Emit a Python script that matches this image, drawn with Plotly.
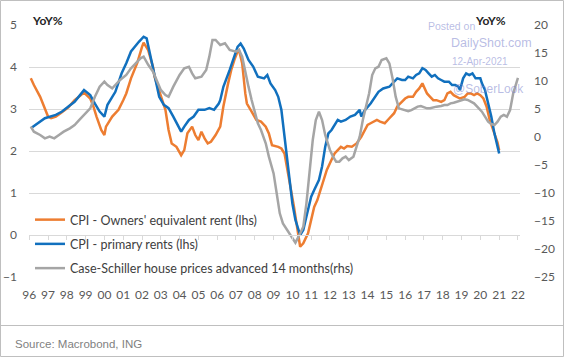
import plotly.graph_objects as go

# ---------------- data ----------------
oer_dates = ["1996-02","1996-04","1996-08","1996-11","1997-01","1997-03","1997-06","1997-09",
             "1998-02","1998-06","1998-10","1998-12","1999-04","1999-06","1999-08","1999-11",
             "2000-01","2000-02","2000-06","2000-10","2001-01","2001-03","2001-06","2001-10",
             "2002-01","2002-02","2002-05","2002-08","2002-09","2002-11","2002-12","2003-04",
             "2003-06","2003-08","2003-11","2004-02","2004-04","2004-06","2004-09","2004-11",
             "2005-01","2005-03","2005-05","2005-07","2005-09","2005-12","2006-03","2006-05",
             "2006-08","2006-10","2006-12","2007-02","2007-03","2007-05","2007-07","2007-08",
             "2007-11","2008-02","2008-05","2008-08","2008-10","2008-12","2009-04","2009-06",
             "2009-08","2009-10","2009-12","2010-02","2010-04","2010-06","2010-08","2010-11",
             "2011-01","2011-03","2011-05","2011-07","2011-09","2011-11","2012-02","2012-04",
             "2012-06","2012-08","2012-10","2012-12","2013-03","2013-06","2013-09","2013-11",
             "2014-01","2014-03","2014-05","2014-07","2014-09","2014-12","2015-03","2015-06",
             "2015-08","2015-10","2016-01","2016-03","2016-06","2016-08","2016-10","2016-12",
             "2017-01","2017-03","2017-05","2017-07","2017-09","2017-12","2018-02","2018-04",
             "2018-06","2018-08","2018-10","2018-12","2019-03","2019-05","2019-07","2019-09",
             "2019-11","2020-01","2020-03","2020-05","2020-07","2020-10","2020-12","2021-01"]
oer_values = [3.73,3.57,3.29,2.98,2.82,2.78,2.82,2.90,
              3.04,3.21,3.33,3.39,3.25,3.06,2.82,2.50,
              2.38,2.58,2.82,2.98,3.21,3.37,3.73,4.10,
              4.48,4.58,4.40,4.01,3.77,3.55,3.45,2.98,
              2.50,2.18,2.10,1.90,2.02,2.42,2.58,2.38,
              2.26,2.46,2.30,2.18,2.22,2.38,2.58,3.06,
              3.61,3.93,4.17,4.37,4.40,4.09,3.37,3.13,
              2.94,2.74,2.70,2.58,2.42,2.14,2.10,2.06,
              1.94,1.55,1.15,0.67,0.20,-0.28,-0.20,0.04,
              0.36,0.67,0.83,1.07,1.31,1.55,1.79,1.94,
              2.02,2.10,2.06,2.12,2.10,2.18,2.34,2.50,
              2.62,2.66,2.70,2.74,2.70,2.66,2.78,2.90,
              3.06,3.13,3.25,3.29,3.29,3.41,3.49,3.61,
              3.53,3.37,3.29,3.21,3.21,3.17,3.21,3.37,
              3.41,3.33,3.29,3.25,3.29,3.37,3.37,3.33,
              3.37,3.33,3.25,3.06,2.74,2.42,2.20,2.02]

rent_dates = ["1996-02","1996-08","1996-11","1997-06","1997-10","1998-02","1998-06","1998-12",
              "1999-04","1999-07","1999-10","2000-01","2000-03","2000-08","2000-12","2001-03",
              "2001-06","2001-11","2002-02","2002-04","2002-06","2002-07","2002-10","2002-12",
              "2003-03","2003-06","2003-09","2003-12","2004-02","2004-04","2004-07","2004-10",
              "2005-01","2005-05","2005-08","2005-11","2006-02","2006-03","2006-05","2006-09",
              "2006-12","2007-02","2007-04","2007-06","2007-09","2007-12","2008-03","2008-07",
              "2008-09","2008-11","2009-02","2009-04","2009-06","2009-09","2009-11","2010-01",
              "2010-03","2010-06","2010-08","2010-10","2011-01","2011-03","2011-06","2011-08",
              "2011-10","2011-12","2012-02","2012-06","2012-08","2012-11","2013-02","2013-05",
              "2013-08","2013-09","2013-11","2014-03","2014-05","2014-08","2014-11","2015-03",
              "2015-05","2015-08","2015-11","2016-01","2016-03","2016-06","2016-08","2016-10",
              "2016-12","2017-02","2017-04","2017-06","2017-08","2017-10","2017-12","2018-02",
              "2018-05","2018-07","2018-09","2018-11","2018-12","2019-02","2019-04","2019-06",
              "2019-08","2019-10","2020-01","2020-02","2020-04","2020-06","2020-08","2020-10",
              "2021-01"]
rent_values = [2.54,2.70,2.78,2.86,2.94,3.06,3.17,3.45,
               3.33,3.13,2.94,2.82,3.10,3.41,3.85,4.09,
               4.37,4.60,4.72,4.68,4.33,4.20,3.61,3.29,
               3.10,3.02,2.82,2.62,2.46,2.58,2.74,2.82,
               2.98,2.98,3.02,2.98,3.13,3.21,3.53,3.93,
               4.25,4.48,4.56,4.44,4.17,4.01,3.77,3.73,
               3.81,3.61,3.45,3.29,2.98,2.10,1.39,0.75,
               0.36,0.00,0.12,0.44,0.91,1.07,1.31,1.63,
               2.10,2.42,2.50,2.74,2.70,2.74,2.82,2.86,
               2.98,2.82,2.96,3.13,3.25,3.41,3.49,3.53,
               3.61,3.73,3.69,3.69,3.77,3.73,3.81,3.85,
               3.97,3.93,3.85,3.77,3.81,3.73,3.69,3.65,
               3.65,3.57,3.57,3.53,3.45,3.73,3.85,3.81,
               3.85,3.73,3.73,3.61,3.45,3.13,2.82,2.42,
               1.94]

cs_dates = ["1996-02","1996-04","1996-08","1996-11","1997-02","1997-05","1997-08","1997-11",
            "1998-03","1998-06","1998-09","1998-12","1999-04","1999-07","1999-10","2000-01",
            "2000-03","2000-06","2000-08","2000-11","2001-03","2001-06","2001-09","2001-12",
            "2002-02","2002-05","2002-08","2002-10","2003-01","2003-04","2003-06","2003-09",
            "2004-01","2004-04","2004-07","2004-09","2004-11","2005-03","2005-06","2005-08",
            "2005-10","2005-12","2006-03","2006-06","2006-09","2007-01","2007-03","2007-05",
            "2007-07","2007-09","2007-11","2008-01","2008-03","2008-05","2008-08","2008-10",
            "2009-01","2009-03","2009-05","2009-07","2009-09","2009-11","2010-01","2010-03",
            "2010-05","2010-08","2010-10","2010-12","2011-02","2011-04","2011-06","2011-08",
            "2011-10","2012-01","2012-03","2012-05","2012-07","2012-09","2012-11","2013-01",
            "2013-04","2013-06","2013-08","2013-10","2013-12","2014-02","2014-04","2014-06",
            "2014-08","2014-10","2015-01","2015-03","2015-05","2015-07","2015-09","2015-11",
            "2016-01","2016-03","2016-05","2016-07","2016-09","2016-11","2017-01","2017-03",
            "2017-05","2017-07","2017-09","2017-12","2018-02","2018-04","2018-06","2018-08",
            "2018-10","2019-01","2019-03","2019-05","2019-07","2019-09","2019-11","2020-02",
            "2020-04","2020-06","2020-08","2020-10","2020-12","2021-02","2021-04","2021-06",
            "2021-08","2021-10","2022-01"]
cs_values = [1.85,0.95,0.36,-0.24,0.06,-0.24,0.36,0.95,
             1.55,2.14,3.04,3.93,5.12,7.20,8.99,9.88,
             9.29,8.70,9.29,10.18,11.07,12.26,13.15,14.05,
             14.35,12.90,11.70,10.30,8.40,7.50,7.20,8.99,
             11.07,12.26,12.55,11.37,10.48,10.77,11.96,14.35,
             17.32,17.32,16.43,16.73,15.54,15.24,15.54,14.35,
             11.37,8.99,6.61,4.23,2.44,1.25,-1.13,-3.51,
             -6.50,-10.00,-13.63,-15.42,-16.31,-17.20,-18.10,-18.87,
             -17.80,-16.01,-11.85,-5.89,-0.54,3.04,4.52,3.04,
             0.36,-2.32,-3.51,-4.40,-4.40,-3.80,-3.51,-4.11,
             -3.51,-1.73,0.06,3.04,5.42,7.80,11.07,12.26,
             12.55,13.75,14.05,13.15,10.48,7.20,5.12,4.90,
             4.70,4.60,4.80,5.12,5.42,5.54,5.30,5.12,
             5.12,5.30,5.42,5.54,5.71,5.71,6.01,6.13,
             6.31,6.61,6.73,6.61,6.31,6.01,5.42,4.52,
             3.63,2.74,2.32,2.14,2.74,3.63,3.93,3.63,
             4.82,7.80,10.54]

name_oer = "CPI - Owners' equivalent rent (lhs)"
name_rent = "CPI - primary rents (lhs)"
name_cs = "Case-Schiller house prices advanced 14 months(rhs)"

# ---------------- layout constants ----------------
W, H = 564, 357
ML, MR, MT, MB = 29, 44, 25, 80
PW, PH = W - ML - MR, H - MT - MB

def px(x):
    return (x - ML) / PW

def py(y):
    return (H - MB - y) / PH

FONT = "Lato, 'Open Sans', sans-serif"
TICK = dict(family=FONT, size=12, color="#595959")

fig = go.Figure()
fig.add_trace(go.Scatter(x=cs_dates, y=cs_values, name=name_cs, yaxis="y2",
                         mode="lines", line=dict(color="#A5A5A5", width=2.5),
                         legendrank=3, legendgroup="c"))
fig.add_trace(go.Scatter(x=oer_dates, y=oer_values, name=name_oer,
                         mode="lines", line=dict(color="#ED7D31", width=2.5),
                         legendrank=1, legendgroup="a"))
fig.add_trace(go.Scatter(x=rent_dates, y=rent_values, name=name_rent,
                         mode="lines", line=dict(color="#1170BE", width=2.5),
                         legendrank=2, legendgroup="b"))
# empty trace so that the zero-line axis (x2) is created
fig.add_trace(go.Scatter(x=[], y=[], xaxis="x2", showlegend=False, hoverinfo="skip"))

fig.update_layout(
    width=W, height=H,
    margin=dict(l=ML, r=MR, t=MT, b=MB, pad=0, autoexpand=False),
    paper_bgcolor="white", plot_bgcolor="white",
    showlegend=True,
    legend=dict(x=px(30), y=py(205), xanchor="left", yanchor="top",
                bgcolor="rgba(0,0,0,0)", borderwidth=0,
                font=dict(family=FONT, size=12.5, color="#404040"),
                itemwidth=30, traceorder="grouped", tracegroupgap=5),
    xaxis=dict(type="date", range=["1995-12-28", "2022-02-10"], automargin=False,
               tick0="1996-01-01", dtick="M12", tickformat="%y",
               showgrid=False, showline=False, zeroline=False,
               ticks="outside", ticklen=7, tickcolor="rgba(0,0,0,0)",
               tickfont=TICK),
    xaxis2=dict(type="date", overlaying="x", matches="x", anchor="free", automargin=False,
                position=1/6, showgrid=False, showline=True, linecolor="#D9D9D9",
                linewidth=1, ticks="outside", ticklen=4, tickcolor="#D9D9D9",
                tick0="1996-01-01", dtick="M12", showticklabels=False, zeroline=False),
    yaxis=dict(range=[-1, 5], dtick=1, showgrid=True, gridcolor="#D9D9D9", automargin=False,
               gridwidth=1, zeroline=False, showline=False, ticks="",
               tickfont=TICK, ticklabelstandoff=11),
    yaxis2=dict(range=[-25, 20], dtick=5, overlaying="y", side="right", automargin=False,
                showgrid=False, zeroline=False, showline=False, ticks="",
                tickfont=TICK, ticklabelstandoff=13),
)

def note(txt, cx, cy, font, xanchor="center"):
    fig.add_annotation(x=px(cx), y=py(cy), xref="paper", yref="paper", text=txt,
                       showarrow=False, xanchor=xanchor, yanchor="middle", font=font)

# axis unit labels
UNIT = dict(family=FONT, size=12, color="#262626")
note("<b>YoY%</b>", 47, 20, UNIT)
note("<b>YoY%</b>", 490, 20, UNIT)

# watermark
WM = "rgba(125,132,205,0.55)"
WF = "Liberation Sans, Arial, sans-serif"
for txt, cx, cy, sz in [("Posted on", 451, 26, 10.5), ("DailyShot.com", 491, 43, 12.5),
                        ("12-Apr-2021", 480, 61, 10), ("@SoberLook", 488, 89, 12)]:
    note(txt, cx, cy, dict(family=WF, size=sz, color=WM))

# source
note("Source: Macrobond, ING", 13, 344,
     dict(family="Liberation Sans, Arial, sans-serif", size=11.5, color="#7F7F7F"), xanchor="left")

# frame and separator
fig.add_shape(type="line", xref="paper", yref="paper", x0=px(0), x1=px(W), y0=py(325.5), y1=py(325.5),
              line=dict(color="#BFBFBF", width=1))
fig.add_shape(type="rect", xref="paper", yref="paper", x0=px(0.5), x1=px(W - 0.5),
              y0=py(H - 0.5), y1=py(0.5), line=dict(color="#BFBFBF", width=1))

fig.write_html("out.html", config={"displayModeBar": False},
               post_script="document.body.style.margin='0px';document.body.style.overflow='hidden';")
